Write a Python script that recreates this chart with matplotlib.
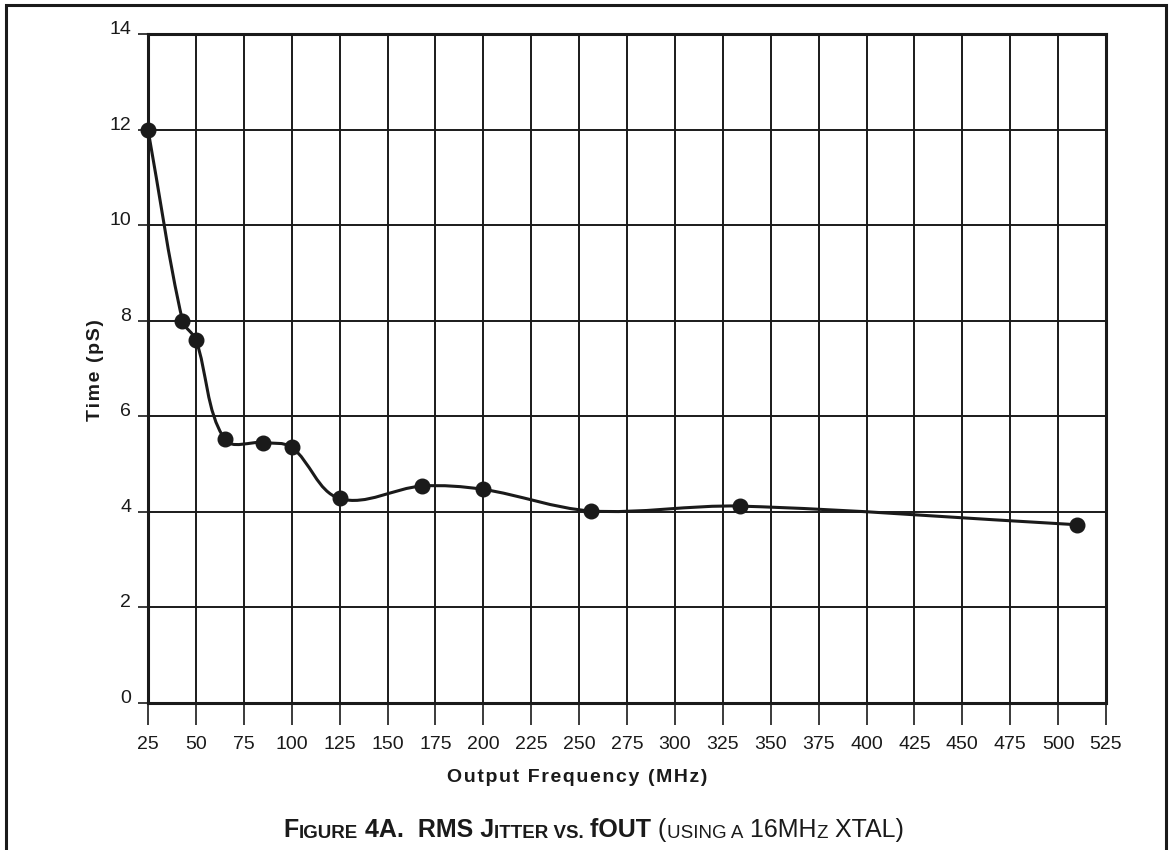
import numpy as np
import matplotlib
matplotlib.use("Agg")
import matplotlib.pyplot as plt
from matplotlib.path import Path
from matplotlib.patches import PathPatch, Rectangle
from matplotlib.text import Annotation

# data
freq_mhz = [25, 43, 50, 65, 85, 100, 125, 168, 200, 256, 334, 510]
jitter_ps = [12.0, 8.0, 7.6, 5.52, 5.45, 5.35, 4.28, 4.54, 4.47, 4.02, 4.12, 3.73]
x_ticks = list(range(25, 526, 25))
y_ticks = list(range(0, 15, 2))

INK = "#1a1a1a"
FONTS = ["Liberation Sans", "DejaVu Sans"]
plt.rcParams["font.family"] = FONTS


def spaced(s):
    # fake letter spacing with hair spaces
    return "\u200a".join(s)


fig = plt.figure(figsize=(11.71, 8.5), dpi=100)
ax = fig.add_axes([148 / 1171, 1 - 703 / 850, (1106 - 148) / 1171, (703 - 34) / 850])

ax.set_xlim(25, 525)
ax.set_ylim(0, 14)
ax.set_xticks(x_ticks)
ax.set_yticks(y_ticks)
ax.grid(True, color=INK, linewidth=1.4)
ax.set_axisbelow(True)
for s in ax.spines.values():
    s.set_linewidth(2.2)
    s.set_color(INK)

ax.tick_params(axis="x", direction="out", length=16, width=1.2, pad=8,
               labelsize=14, colors=INK)
ax.tick_params(axis="y", direction="out", length=7, width=1.2, pad=5,
               labelsize=14, colors=INK)
for lab in ax.get_yticklabels():
    lab.set_verticalalignment("baseline")

ax.set_xlabel(spaced("Output Frequency (MHz)"), fontsize=14, fontweight="bold", color=INK)
ax.xaxis.set_label_coords((577 - 148) / 958, -(778 - 703) / 669)
ax.xaxis.label.set_verticalalignment("center")
ax.set_ylabel(spaced("Time (pS)"), fontsize=14, fontweight="bold", color=INK)
ax.yaxis.set_label_coords(-(148 - 96) / 958, (703 - 370) / 669)
ax.yaxis.label.set_verticalalignment("center")

# smooth curve through the points (Catmull-Rom style Bezier, built in display space)
pts = ax.transData.transform(np.column_stack([freq_mhz, jitter_ps]))
n = len(pts)
verts = [pts[0]]
codes = [Path.MOVETO]
for i in range(n - 1):
    p0 = pts[max(i - 1, 0)]
    p1 = pts[i]
    p2 = pts[i + 1]
    p3 = pts[min(i + 2, n - 1)]
    seg = np.linalg.norm(p2 - p1)
    t1 = p2 - p0
    t2 = p3 - p1
    t1 = t1 / (np.linalg.norm(t1) + 1e-9) * seg / 3
    t2 = t2 / (np.linalg.norm(t2) + 1e-9) * seg / 3
    verts += [p1 + t1, p2 - t2, p2]
    codes += [Path.CURVE4] * 3
verts = ax.transData.inverted().transform(np.array(verts))
curve = PathPatch(Path(verts, codes), facecolor="none", edgecolor=INK,
                  linewidth=2.2, transform=ax.transData, zorder=3, clip_on=False)
ax.add_patch(curve)
ax.plot(freq_mhz, jitter_ps, "o", color=INK, markersize=10.5, zorder=4, clip_on=False)

# outer frame
fig.patches.append(Rectangle((6 / 1171, -0.02), (1166 - 6) / 1171, 1.02 - 5 / 850,
                             transform=fig.transFigure, fill=False,
                             edgecolor=INK, linewidth=2.2))

# caption with a small caps look, pieces chained left to right
pieces = [
    ("F", 18, "bold"), ("IGURE", 13.5, "bold"), (" 4A.  RMS J", 18, "bold"),
    ("ITTER VS.", 13.5, "bold"), (" fOUT", 18, "bold"), (" (", 18, "normal"),
    ("USING A", 13.5, "normal"), (" 16MH", 18, "normal"), ("Z", 13.5, "normal"),
    (" XTAL)", 18, "normal"),
]
prev = fig.text(283 / 1171, 1 - 837 / 850, pieces[0][0], fontsize=pieces[0][1],
                fontweight=pieces[0][2], va="baseline", ha="left", color=INK)
for txt, size, weight in pieces[1:]:
    prev = fig.add_artist(Annotation(
        txt, xy=(1, 0), xycoords=prev, va="bottom", ha="left",
        fontsize=size, fontweight=weight, color=INK))

fig.savefig("out.png", dpi=100)
